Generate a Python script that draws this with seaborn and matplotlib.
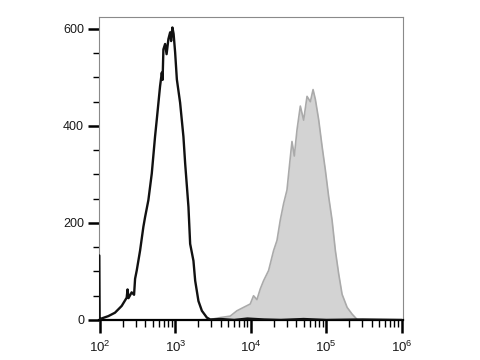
import numpy as np
import pandas as pd
import matplotlib
matplotlib.use("Agg")
import matplotlib.pyplot as plt
import seaborn as sns
from matplotlib.ticker import LogLocator, MultipleLocator, FixedLocator, LogFormatterSciNotation, NullFormatter

# ---- data (fluorescence intensity, event count) ----
control_x = [98.0, 99.0, 100, 129, 158, 194, 226, 232, 239, 263, 283, 292, 307, 340,
             376, 396, 438, 486, 537, 566, 626, 660, 676, 693, 730, 764, 807, 851,
             877, 912, 946, 991, 1045, 1154, 1277, 1346, 1489, 1568, 1734, 1828,
             2020, 2243, 2612, 2890, 4000, 6000, 9000, 15000, 25000, 50000,
             100000, 300000, 1000000]
control_count = [133, 3, 2, 8, 15, 29, 46, 63, 45, 57, 52, 85, 102, 143,
                 192, 212, 247, 302, 378, 413, 482, 510, 495, 558, 569, 548, 579, 593,
                 575, 603, 590, 552, 496, 448, 378, 323, 233, 157, 122, 81,
                 39, 19, 5, 1, 2, 0, 3, 1, 0, 2,
                 0, 1, 0]

stained_x = [98.0, 1000, 1718, 2890, 3925, 5325, 6535, 8000, 9816, 10860, 12040,
             13330, 14750, 17190, 20010, 22210, 24560, 27180, 30130, 33330, 35100,
             37670, 40920, 45280, 50100, 55570, 61480, 66800, 71630, 79260, 87960,
             97240, 107600, 119300, 132000, 146100, 162000, 188900, 220300, 256600,
             301500, 1000000]
stained_count = [0, 0, 0, 1, 5, 8, 19, 26, 33, 50, 42,
                 64, 81, 102, 143, 164, 206, 240, 268, 335, 368,
                 338, 392, 441, 412, 461, 450, 475, 455, 413, 358,
                 309, 254, 206, 143, 95, 53, 26, 12, 1,
                 0, 0]

x_ticks = [1e2, 1e3, 1e4, 1e5, 1e6]
y_ticks = [0, 200, 400, 600]

control = pd.DataFrame({"x": control_x, "count": control_count})
stained = pd.DataFrame({"x": stained_x, "count": stained_count})

sns.set_style("white")
plt.rcParams["font.family"] = ["Liberation Sans", "DejaVu Sans"]
plt.rcParams["mathtext.fontset"] = "custom"
plt.rcParams["mathtext.rm"] = "Liberation Sans"
plt.rcParams["mathtext.it"] = "Liberation Sans:italic"
plt.rcParams["mathtext.bf"] = "Liberation Sans:bold"

fig = plt.figure(figsize=(4.8, 3.6), dpi=100)
ax = fig.add_axes([99.3 / 480, 1 - 320 / 360, (403 - 99.3) / 480, (320 - 17.3) / 360])
ax.set_xscale("log")

ax.fill_between(stained["x"], stained["count"], color="#d3d3d3", lw=0, zorder=1)
sns.lineplot(data=stained, x="x", y="count", color="#aaaaaa", lw=1.2,
             sort=False, ax=ax, zorder=2)
sns.lineplot(data=control, x="x", y="count", color="#111111", lw=1.7,
             sort=False, ax=ax, zorder=3)

ax.set_xlim(10 ** 1.991, 10 ** 6.017)
ax.set_ylim(0, 624)
ax.set_xlabel("")
ax.set_ylabel("")

ax.xaxis.set_major_locator(FixedLocator(x_ticks))
ax.xaxis.set_major_formatter(LogFormatterSciNotation())
ax.xaxis.set_minor_locator(LogLocator(base=10, subs=np.arange(2, 10)))
ax.xaxis.set_minor_formatter(NullFormatter())
ax.yaxis.set_major_locator(FixedLocator(y_ticks))
ax.yaxis.set_minor_locator(MultipleLocator(50))

ax.tick_params(axis="both", which="both", bottom=True, left=True, top=False, right=False)
ax.tick_params(axis="both", which="major", direction="out", length=8, width=1.8,
               color="black", labelsize=9, labelcolor="#1a1a1a", pad=3)
ax.tick_params(axis="both", which="minor", direction="out", length=4, width=1.0,
               color="black")
ax.tick_params(axis="x", which="major", length=9, pad=5, labelsize=9.5)
ax.tick_params(axis="x", which="minor", length=5)

for side in ["top", "right", "left"]:
    ax.spines[side].set_color("#8a8a8a")
    ax.spines[side].set_linewidth(0.8)
ax.spines["bottom"].set_color("black")
ax.spines["bottom"].set_linewidth(1.6)

fig.savefig("out.png", dpi=100)
